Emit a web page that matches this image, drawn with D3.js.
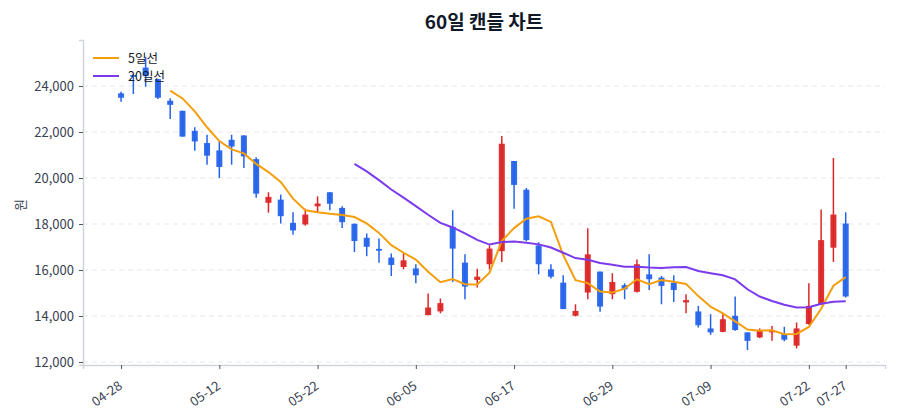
<!DOCTYPE html>
<html>
<head>
<meta charset="utf-8">
<script src="https://cdn.jsdelivr.net/npm/d3@7"></script>
<style>
  body { margin: 0; background: #fff; }
  svg { font-family: "Noto Sans CJK KR", "Noto Sans", sans-serif; }
</style>
</head>
<body>
<svg id="chart" width="900" height="420"></svg>
<script>
// 60 trading days
const dates = [
  '04-28','04-29','04-30','05-04','05-06','05-07','05-08','05-11','05-12','05-13',
  '05-14','05-15','05-18','05-19','05-20','05-21','05-22','05-26','05-27','05-28',
  '05-29','06-01','06-02','06-04','06-05','06-08','06-09','06-10','06-11','06-12',
  '06-15','06-16','06-17','06-18','06-19','06-22','06-23','06-24','06-25','06-26',
  '06-29','06-30','07-01','07-02','07-03','07-06','07-07','07-08','07-09','07-10',
  '07-13','07-14','07-15','07-16','07-20','07-21','07-22','07-23','07-24','07-27'
];
const opens = [
  23680, 24480, 24800, 24300, 23360, 22920, 22050, 21520, 21200, 21660,
  21850, 20820, 18920, 19060, 18050, 17980, 18770, 19380, 18700, 18010,
  17400, 16920, 16540, 16130, 16070, 14040, 14200, 17880, 16320, 15570,
  16250, 16820, 20740, 19490, 17070, 16030, 15450, 14010, 15020, 15930,
  14950, 15340, 15050, 15810, 15670, 15450, 14590, 14200, 13460, 13310,
  14010, 13290, 13070, 13290, 13210, 12710, 13650, 14510, 16970, 18020
];
const highs = [
  23750, 24500, 25270, 24300, 23470, 22930, 22210, 21880, 21590, 21880,
  21860, 20900, 19380, 19280, 18510, 18660, 19200, 19390, 18770, 18020,
  17590, 17370, 16720, 16750, 16250, 14980, 14760, 18600, 16680, 16060,
  17070, 21830, 20740, 19570, 17210, 16250, 15770, 14510, 17820, 15930,
  15860, 15420, 16460, 16680, 15740, 15770, 14950, 14440, 14080, 14080,
  14850, 13290, 13460, 13570, 13530, 13720, 15420, 18630, 20870, 18510
];
const lows = [
  23320, 23650, 23970, 23430, 22570, 21790, 21180, 20580, 20000, 20580,
  20430, 19140, 18490, 18020, 17530, 17930, 18510, 18600, 17830, 16780,
  16600, 16320, 15740, 16030, 15420, 14030, 14120, 15480, 14730, 15240,
  16030, 16350, 18660, 17250, 15810, 15630, 14300, 13980, 14730, 14180,
  14730, 14730, 15020, 15130, 14510, 14610, 14120, 13500, 13180, 13290,
  13360, 12520, 13040, 12920, 12900, 12590, 13620, 14480, 16350, 14800
];
const closes = [
  23490, 24400, 24430, 23490, 23180, 21800, 21590, 20970, 20480, 21370,
  20940, 19320, 19180, 18340, 17720, 18410, 18890, 18880, 18080, 17260,
  17010, 16840, 16220, 16420, 15770, 14370, 14560, 16930, 15280, 15710,
  16930, 21490, 19700, 17300, 16250, 15710, 14300, 14220, 16680, 14410,
  15480, 15160, 16250, 15600, 15310, 15130, 14690, 13600, 13290, 13860,
  13390, 12920, 13360, 13390, 12970, 13460, 14440, 17300, 18410, 14850
];
const yTicks = [12000, 14000, 16000, 18000, 20000, 22000, 24000];
const xTickIdx = [0, 8, 16, 24, 32, 40, 48, 56, 59];
const maWindows = [5, 20];
const maLabels = ['5일선', '20일선'];

const upColor = '#dc2626';
const downColor = '#2563eb';
const maColors = ['#f59e0b', '#7c3aed'];

const margin = { top: 40, right: 15, bottom: 55, left: 83 };
const width = 900, height = 420;

const svg = d3.select('#chart');

const x = d3.scaleLinear()
  .domain([-3.1, 62.2])
  .range([margin.left, width - margin.right]);

const y = d3.scaleLinear()
  .domain([11870, 26000])
  .range([height - margin.bottom, margin.top]);

const candles = dates.map((d, i) => ({
  i: i, date: d,
  open: opens[i], high: highs[i], low: lows[i], close: closes[i]
}));

// rolling mean of the closes
function movingAverage(n) {
  return closes.map((c, i) => {
    if (i < n - 1) return null;
    return { i: i, v: d3.mean(closes.slice(i - n + 1, i + 1)) };
  }).filter(d => d !== null);
}

// grid
svg.append('g')
  .selectAll('line')
  .data(yTicks)
  .enter()
  .append('line')
  .attr('x1', margin.left)
  .attr('x2', width - margin.right)
  .attr('y1', d => y(d))
  .attr('y2', d => y(d))
  .style('stroke', '#e5e7eb')
  .style('stroke-width', 1)
  .style('stroke-dasharray', '5,4');

// axes
const yAxis = svg.append('g')
  .attr('transform', `translate(${margin.left},0)`)
  .call(d3.axisLeft(y).tickValues(yTicks).tickFormat(d3.format(',')).tickSize(4).tickPadding(5));

const xAxis = svg.append('g')
  .attr('transform', `translate(0,${height - margin.bottom})`)
  .call(d3.axisBottom(x).tickValues(xTickIdx).tickFormat(i => dates[i]).tickSize(4).tickPadding(4));

[yAxis, xAxis].forEach(ax => {
  ax.select('.domain').style('stroke', '#d1d5db').style('stroke-width', 1.5);
  ax.selectAll('.tick line').style('stroke', '#4b5563');
  ax.selectAll('.tick text')
    .style('font-size', '13px')
    .style('fill', '#374151')
    .style('font-family', '"Noto Sans CJK KR", "Noto Sans", sans-serif');
});

// rotated date labels, right end just under the tick
xAxis.selectAll('.tick text')
  .attr('text-anchor', 'end')
  .attr('x', 0)
  .attr('y', 0)
  .attr('dx', 0)
  .attr('dy', '0.35em')
  .attr('transform', 'translate(-1,19) rotate(-35)');

// candles
const bodyW = 6;
const cg = svg.append('g');

cg.selectAll('.wick')
  .data(candles)
  .enter()
  .append('line')
  .attr('class', 'wick')
  .attr('x1', d => x(d.i))
  .attr('x2', d => x(d.i))
  .attr('y1', d => y(d.high))
  .attr('y2', d => y(d.low))
  .style('stroke', d => d.close >= d.open ? upColor : downColor)
  .style('stroke-width', 1.5);

cg.selectAll('.body')
  .data(candles)
  .enter()
  .append('rect')
  .attr('class', 'body')
  .attr('x', d => x(d.i) - bodyW / 2)
  .attr('width', bodyW)
  .attr('y', d => y(Math.max(d.open, d.close)))
  .attr('height', d => Math.max(1.5, Math.abs(y(d.open) - y(d.close))))
  .style('fill', d => d.close >= d.open ? upColor : downColor)
  .style('opacity', 0.95);

// moving averages
const line = d3.line()
  .x(d => x(d.i))
  .y(d => y(d.v));

maWindows.forEach((n, k) => {
  svg.append('path')
    .datum(movingAverage(n))
    .attr('d', line)
    .style('fill', 'none')
    .style('stroke', maColors[k])
    .style('stroke-width', 2);
});

// legend
const legend = svg.append('g').attr('transform', 'translate(93,58)');
maLabels.forEach((lab, k) => {
  const row = legend.append('g').attr('transform', `translate(0,${k * 18})`);
  row.append('line')
    .attr('x1', 0).attr('x2', 26)
    .style('stroke', maColors[k])
    .style('stroke-width', 2);
  row.append('text')
    .attr('x', 35)
    .attr('y', 4.5)
    .style('font-size', '12.5px')
    .style('fill', '#111827')
    .text(lab);
});

// title and y label
svg.append('text')
  .attr('x', (margin.left + width - margin.right) / 2)
  .attr('y', 29)
  .attr('text-anchor', 'middle')
  .style('font-size', '19px')
  .style('font-weight', 'bold')
  .style('fill', '#111827')
  .text('60일 캔들 차트');

svg.append('text')
  .attr('transform', 'translate(25,205) rotate(-90)')
  .attr('text-anchor', 'middle')
  .style('font-size', '13px')
  .style('fill', '#374151')
  .text('원');
</script>
</body>
</html>
